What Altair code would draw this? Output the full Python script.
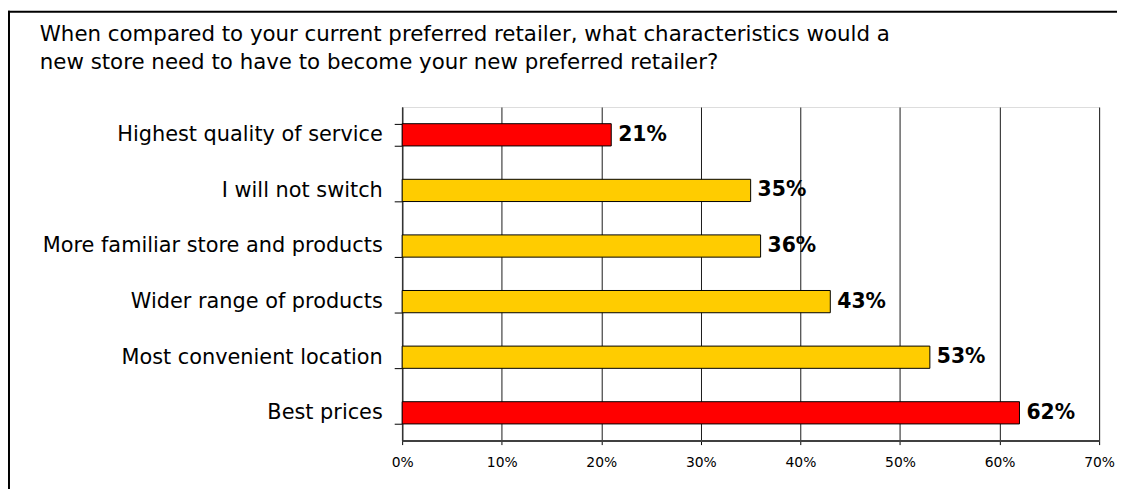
import altair as alt
import pandas as pd

categories = [
    "Highest quality of service",
    "I will not switch",
    "More familiar store and products",
    "Wider range of products",
    "Most convenient location",
    "Best prices",
]
values = [21, 35, 36, 43, 53, 62]
groups = ["key", "other", "other", "other", "other", "key"]
x_ticks = [0, 10, 20, 30, 40, 50, 60, 70]

title_lines = [
    "When compared to your current preferred retailer, what characteristics would a",
    "new store need to have to become your new preferred retailer?",
]

df = pd.DataFrame({"cat": categories, "val": values, "grp": groups})
df["label"] = df["val"].astype(str) + "%"
one = pd.DataFrame({"k": [0]})

FONT = "DejaVu Sans"

y_enc = alt.Y(
    "cat:N",
    sort=categories,
    scale=alt.Scale(paddingInner=0.6, paddingOuter=0.3),
    axis=alt.Axis(
        title=None,
        tickBand="extent",
        tickSize=8,
        tickColor="#000000",
        domainColor="#333333",
        domainWidth=1.5,
        labelFont=FONT,
        labelFontSize=21,
        labelColor="#000000",
        labelPadding=12,
        labelLimit=420,
    ),
)
x_enc = alt.X(
    "val:Q",
    scale=alt.Scale(domain=[0, 70], nice=False, zero=True),
    axis=alt.Axis(
        title=None,
        values=x_ticks,
        labelExpr="datum.value + '%'",
        labelFlush=False,
        tickSize=4,
        tickColor="#000000",
        domainColor="#404040",
        domainWidth=2,
        grid=True,
        gridColor="#1a1a1a",
        gridWidth=1,
        labelFont=FONT,
        labelFontSize=14,
        labelColor="#000000",
        labelPadding=11,
    ),
)

bars = alt.Chart(df).mark_bar(stroke="#000000", strokeWidth=1).encode(
    y=y_enc,
    x=x_enc,
    color=alt.Color(
        "grp:N",
        scale=alt.Scale(domain=["key", "other"], range=["#FF0000", "#FFCC00"]),
        legend=None,
    ),
)

labels = alt.Chart(df).mark_text(
    align="left", baseline="middle", dx=7, font=FONT, fontSize=20.5, fontWeight="bold", color="#000000"
).encode(
    y=alt.Y("cat:N", sort=categories),
    x=alt.X("val:Q"),
    text="label:N",
)

title = alt.Chart(one).mark_text(
    text=title_lines, align="left", baseline="alphabetic", font=FONT, fontSize=21.5,
    lineHeight=28, color="#000000"
).encode(x=alt.value(-365), y=alt.value(-66))

frame_left = alt.Chart(one).mark_rule(color="#000000", strokeWidth=2).encode(
    x=alt.value(-396), y=alt.value(-97), y2=alt.value(400)
)
frame_top = alt.Chart(one).mark_rule(color="#000000", strokeWidth=2).encode(
    x=alt.value(-397), x2=alt.value(720), y=alt.value(-96)
)

chart = (
    alt.layer(frame_left, frame_top, title, bars, labels)
    .properties(
        width=702,
        height=336,
        autosize=alt.AutoSizeParams(type="none"),
        padding={"left": 397, "top": 98, "right": 18, "bottom": 47},
    )
    .configure_view(fill="#C3CFCF", stroke="#808080", strokeWidth=1)
    .configure(background="#FFFFFF")
)

chart.save("out.html", embed_options={"renderer": "svg", "actions": False})
